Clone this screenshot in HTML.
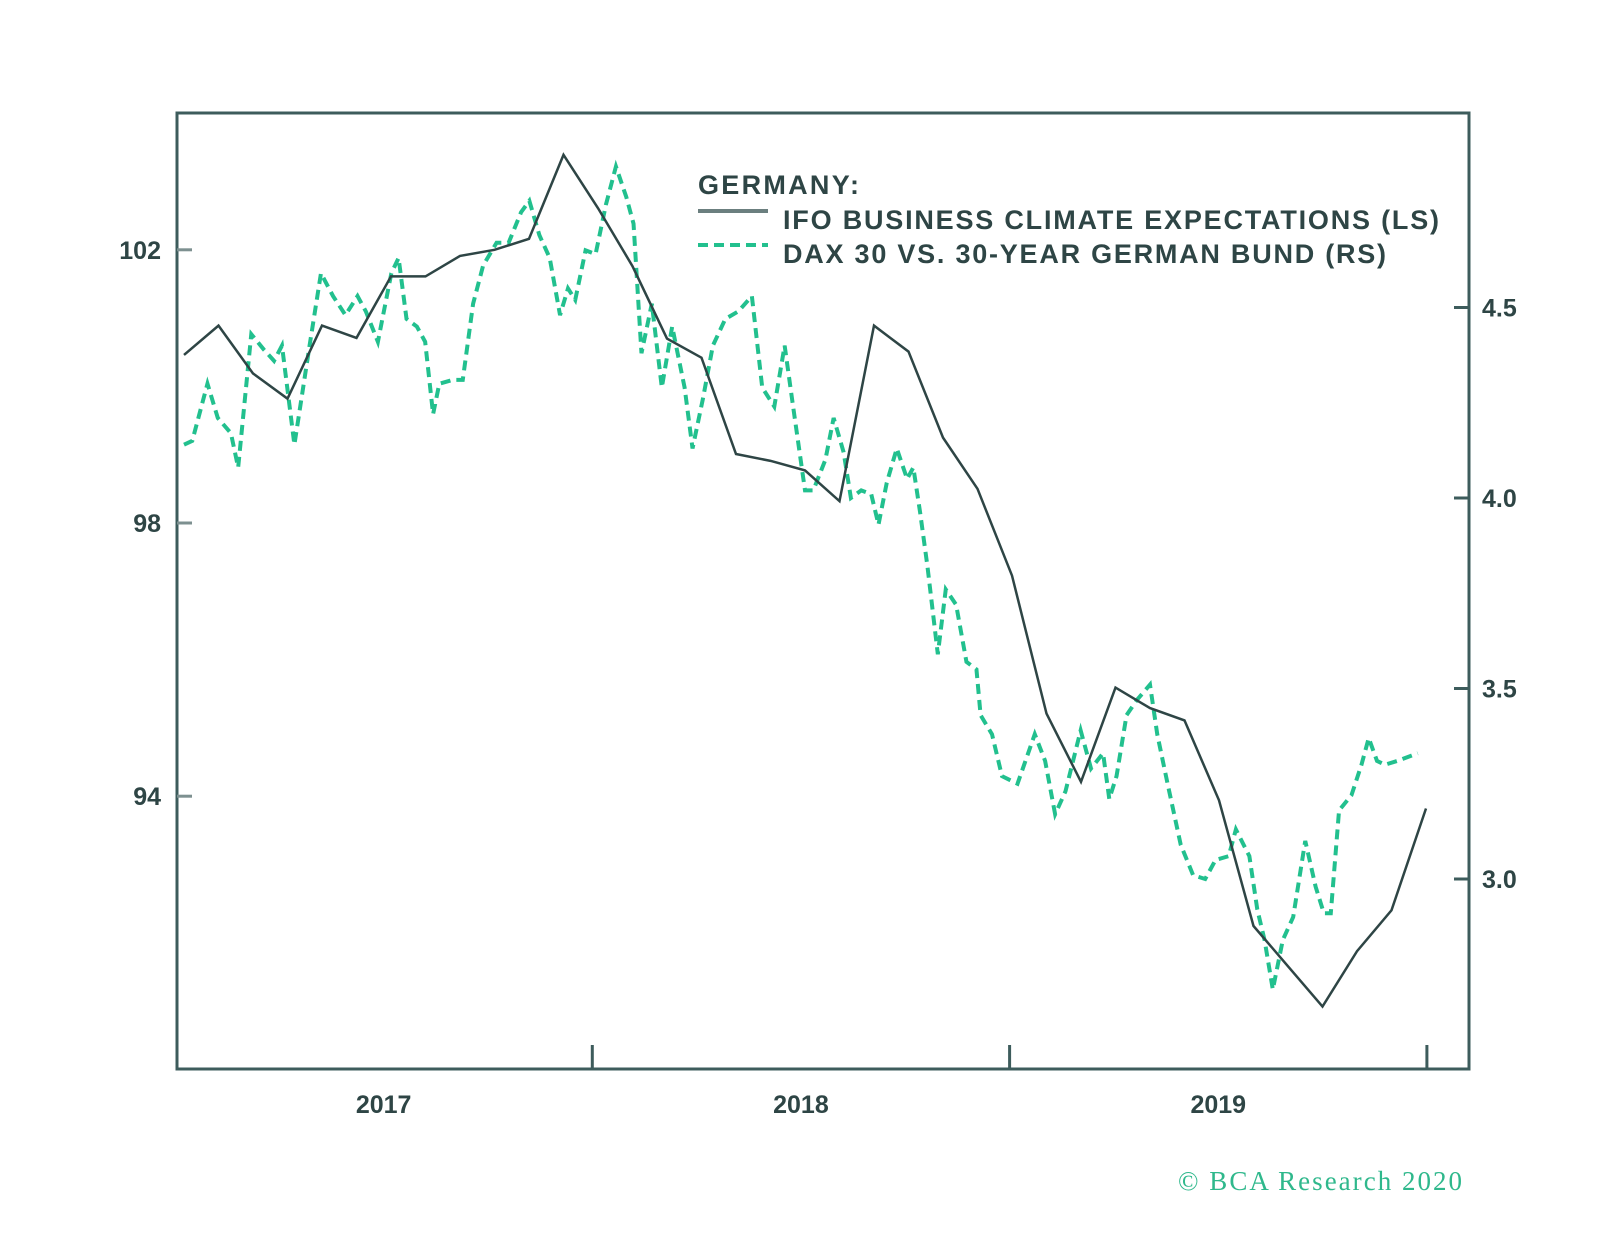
<!DOCTYPE html>
<html><head><meta charset="utf-8"><style>
html,body{margin:0;padding:0;background:#fff;}
svg{display:block;font-family:"Liberation Sans",sans-serif;}
</style></head><body>
<svg id="chart" width="1600" height="1252" viewBox="0 0 1600 1252">
<rect x="177" y="113" width="1292" height="956" fill="#fff" stroke="#3d5c5c" stroke-width="3"/>
<g id="axes"></g>
<g id="series"></g>
<g>
<text x="698" y="194" font-size="27" font-weight="bold" fill="#2e4545" textLength="161">GERMANY:</text>
<line x1="698" y1="211" x2="768" y2="211" stroke="#6b7f7f" stroke-width="4"/>
<text x="783" y="229" font-size="27" font-weight="bold" fill="#2e4545" textLength="656">IFO BUSINESS CLIMATE EXPECTATIONS (LS)</text>
<line x1="698" y1="245" x2="768" y2="245" stroke="#22c08e" stroke-width="4" stroke-dasharray="10,6"/>
<text x="783" y="263" font-size="27" font-weight="bold" fill="#2e4545" textLength="603">DAX 30 VS. 30-YEAR GERMAN BUND (RS)</text>
</g>
<text x="1462" y="1190" text-anchor="end" font-family="Liberation Serif,serif" font-size="27" fill="#2fb88c" textLength="284">© BCA Research 2020</text>
</svg>
<script>
const leftTicks=[102,98,94];
const rightTicks=[4.5,4.0,3.5,3.0];
const yearLabels=["2017","2018","2019"];
const yearBoundaries=[1,2,3];
const ifoValues=[100.46,100.89,100.19,99.82,100.89,100.71,101.61,101.61,101.91,102.0,102.16,103.39,102.61,101.76,100.70,100.42,99.01,98.91,98.77,98.32,100.89,100.51,99.25,98.50,97.23,95.21,94.21,95.59,95.29,95.11,93.94,92.10,91.51,90.92,91.73,92.33,93.82];
const daxMonths=[0,0.24,0.68,0.98,1.36,1.57,1.95,2.31,2.61,2.84,3.2,3.64,3.97,4.32,4.68,5.03,5.27,5.62,6.01,6.22,6.45,6.75,6.99,7.22,7.4,7.79,8.08,8.38,8.67,9.06,9.41,9.77,10.01,10.3,10.6,10.9,11.13,11.34,11.64,11.93,12.23,12.52,12.82,13.03,13.26,13.56,13.85,14.15,14.51,14.74,15.04,15.33,15.69,16.07,16.46,16.76,17.11,17.41,17.64,18.0,18.24,18.59,18.83,19.12,19.33,19.63,19.92,20.13,20.37,20.66,20.96,21.14,21.34,21.55,21.85,22.08,22.38,22.68,22.97,23.09,23.42,23.71,24.16,24.66,24.96,25.25,25.55,25.99,26.29,26.64,26.82,27.03,27.32,27.62,28.0,28.21,28.51,28.89,29.25,29.6,29.9,30.28,30.49,30.88,31.11,31.32,31.56,31.85,32.15,32.5,32.8,33.04,33.24,33.48,33.84,34.13,34.34,34.58,34.81,35.17,35.76];
const daxValues=[4.14,4.15,4.30,4.21,4.17,4.08,4.43,4.39,4.36,4.40,4.14,4.40,4.59,4.53,4.48,4.53,4.49,4.41,4.59,4.63,4.47,4.45,4.41,4.22,4.30,4.31,4.31,4.51,4.61,4.67,4.67,4.75,4.78,4.69,4.63,4.48,4.55,4.52,4.65,4.64,4.77,4.87,4.79,4.72,4.38,4.51,4.29,4.45,4.29,4.13,4.26,4.40,4.47,4.49,4.53,4.29,4.24,4.40,4.25,4.02,4.02,4.10,4.21,4.12,4.00,4.02,4.01,3.93,4.04,4.13,4.05,4.08,3.96,3.82,3.59,3.76,3.72,3.57,3.55,3.43,3.38,3.27,3.25,3.38,3.31,3.17,3.23,3.39,3.29,3.33,3.21,3.27,3.43,3.47,3.51,3.38,3.25,3.09,3.01,3.0,3.05,3.06,3.13,3.06,2.92,2.84,2.71,2.84,2.90,3.10,2.98,2.91,2.91,3.18,3.22,3.30,3.37,3.31,3.30,3.31,3.33];

const NS="http://www.w3.org/2000/svg";
const xM=m=>184+m*34.5;
const xYear=y=>175+y*417.3;
const yL=v=>249.8+(102-v)*68.3;
const yR=v=>879-(v-3)*381;
const axes=document.getElementById('axes');
const series=document.getElementById('series');
function mk(tag,attrs,parent){const e=document.createElementNS(NS,tag);for(const k in attrs)e.setAttribute(k,attrs[k]);parent.appendChild(e);return e;}

leftTicks.forEach(v=>{
  const t=mk('line',{x1:177,x2:192,y1:yL(v),y2:yL(v),stroke:'#7d9090','stroke-width':3},axes);
  
  
  const l=mk('text',{x:161,y:yL(v)+9,'text-anchor':'end','font-size':25,'font-weight':'bold',fill:'#2e4545'},axes);
  l.textContent=String(v);
  
  
});
rightTicks.forEach(v=>{
  const t=mk('line',{x1:1454,x2:1469,y1:yR(v),y2:yR(v),stroke:'#3d5c5c','stroke-width':3},axes);
  
  
  const l=mk('text',{x:1482,y:yR(v)+9,'font-size':25,'font-weight':'bold',fill:'#2e4545'},axes);
  l.textContent=v.toFixed(1);
  
  
});
yearBoundaries.forEach(b=>{
  const t=mk('line',{x1:xYear(b),x2:xYear(b),y1:1045,y2:1069,stroke:'#3d5c5c','stroke-width':3},axes);
  
  
});
yearLabels.forEach((s,i)=>{
  const l=mk('text',{x:xYear(i+0.5),y:1113,'text-anchor':'middle','font-size':25,'font-weight':'bold',fill:'#2e4545'},axes);
  l.textContent=s;
  
  
});
const dax=mk('polyline',{points:daxMonths.map((m,i)=>xM(m)+','+yR(daxValues[i])).join(' '),fill:'none',stroke:'#22c08e','stroke-width':4,'stroke-dasharray':'10,6'},series);


const ifo=mk('polyline',{points:ifoValues.map((v,i)=>xM(i)+','+yL(v)).join(' '),fill:'none',stroke:'#2e4545','stroke-width':2.5},series);


</script>
</body></html>
